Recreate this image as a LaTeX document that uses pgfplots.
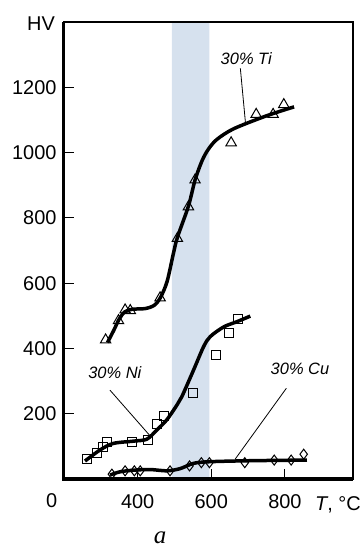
\documentclass[border=0pt]{standalone}
\usepackage{pgfplots}
\pgfplotsset{compat=1.18}
\usepackage{fontspec}
\setmainfont{Liberation Sans}
\newfontfamily\serifit{Liberation Serif}
\definecolor{band}{RGB}{214,225,238}
\begin{document}
\begin{tikzpicture}
\begin{axis}[name=ax, scale only axis, width=289bp, height=457bp,
 xmin=200, xmax=985, ymin=0, ymax=1400, clip=false, axis on top,
 tick pos=left, tick align=inside, major tick length=10bp,
 xtick={400,600,800}, ytick={200,400,...,1200},
 /pgf/number format/assume math mode=true, /pgf/number format/1000 sep={},
 tick label style={font=\fontsize{20}{22}\selectfont},
 every tick/.style={black, line width=1.2bp},
 axis line style={line width=1.5bp},
 xticklabel style={yshift=-12bp}, yticklabel style={xshift=-4bp},
]
\addplot[fill=band, draw=none] coordinates {(493,0)(493,1400)(595,1400)(595,0)} \closedcycle;
% fitted curves
\addplot[black, smooth, line width=3.5bp] coordinates {(318,418)(335,455)(350,490)(365,512)(385,520)(420,522)(445,532)(462,556)(480,605)(497,690)(508,740)(538,836)(556,916)(575,975)(592,1010)(615,1040)(661,1073)(751,1113)(825,1140)};
\addplot[black, smooth, line width=3.5bp] coordinates {(257,55)(298,89)(334,109)(389,116)(425,122)(452,150)(479,181)(507,227)(520,252)(552,334)(579,405)(597,436)(634,466)(670,482)(706,499)};
\addplot[black, smooth, line width=3.5bp] coordinates {(325,12)(352,22)(389,27)(434,29)(480,25)(516,32)(552,48)(597,53)(706,56)(860,58)};
% leader lines
\addplot[black, line width=0.8bp] coordinates {(679,1258)(693,1090)};
\addplot[black, line width=0.8bp] coordinates {(325,272)(434,132)};
\addplot[black, line width=0.8bp] coordinates {(804,278)(665,61)};
% measured points
\addplot[black, only marks, mark=triangle, mark size=6bp, mark options={fill=white, line width=1bp}] coordinates {(313,426)(348,485)(366,518)(380,516)(461,555)(508,737)(538,834)(556,916)(654,1030)(722,1117)(768,1117)(797,1147)};
\addplot[black, only marks, mark=square, mark size=4.5bp, mark options={fill=white, line width=1bp}] coordinates {(262,61)(289,80)(305,99)(318,114)(384,114)(429,121)(452,170)(472,193)(550,262)(612,379)(648,448)(672,490)};
\addplot[black, only marks, mark=diamond, mark size=5bp, mark options={fill=white, line width=1bp}] coordinates {(330,15)(366,25)(391,25)(407,25)(488,25)(541,40)(573,50)(595,50)(691,50)(771,58)(817,58)(851,76)};
\node[font=\fontsize{16.5}{18}\selectfont\itshape] at (axis cs:695,1289) {30\% Ti};
\node[font=\fontsize{16.5}{18}\selectfont\itshape] at (axis cs:338,326) {30\% Ni};
\node[font=\fontsize{16.5}{18}\selectfont\itshape] at (axis cs:841,337) {30\% Cu};
\draw[line width=3bp] (rel axis cs:0,1) -- (rel axis cs:0,0) -- (rel axis cs:1,0);
\end{axis}
\node[font=\fontsize{20}{22}\selectfont] at ([xshift=-23bp,yshift=-2bp]ax.north west) {HV};
\node[font=\fontsize{20}{22}\selectfont] at ([xshift=-12.3bp,yshift=-21.5bp]ax.south west) {0};
\node[font=\fontsize{20}{22}\selectfont, anchor=west, inner sep=0pt] at ([xshift=251bp,yshift=-26bp]ax.south west) {\textit{T}, °C};
\node[font=\fontsize{25}{27}\selectfont\serifit\itshape] at ([xshift=96bp,yshift=-59bp]ax.south west) {a};
\pgfresetboundingbox
\path ([xshift=-64bp,yshift=-71bp]ax.south west) rectangle ([xshift=11bp,yshift=22bp]ax.north east);
\end{tikzpicture}
\end{document}
